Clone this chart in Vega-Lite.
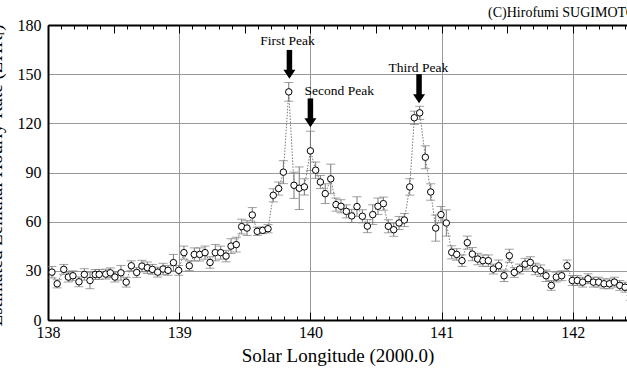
{
  "$schema": "https://vega.github.io/schema/vega-lite/v6.json",
  "autosize": {"type": "none"},
  "padding": {"left": 48, "top": 25, "right": 0, "bottom": 56},
  "width": 579,
  "height": 295,
  "background": "white",
  "config": {"font": "Liberation Serif", "view": {"stroke": null}, "axis": {"labelColor": "black", "titleColor": "black", "tickColor": "black"}},
  "datasets": {
    "obs": [
      {"lon": 138.03, "zhr": 29.2, "err": 3.5},
      {"lon": 138.07, "zhr": 22.1, "err": 2.5},
      {"lon": 138.12, "zhr": 30.9, "err": 3},
      {"lon": 138.155, "zhr": 26.2, "err": 3},
      {"lon": 138.19, "zhr": 27, "err": 3},
      {"lon": 138.236, "zhr": 23.3, "err": 3},
      {"lon": 138.277, "zhr": 27.8, "err": 3.5},
      {"lon": 138.32, "zhr": 24.1, "err": 5},
      {"lon": 138.36, "zhr": 27.8, "err": 3},
      {"lon": 138.39, "zhr": 27.8, "err": 3},
      {"lon": 138.44, "zhr": 28, "err": 3},
      {"lon": 138.475, "zhr": 28.8, "err": 3},
      {"lon": 138.51, "zhr": 26.2, "err": 3},
      {"lon": 138.556, "zhr": 28.8, "err": 4.5},
      {"lon": 138.596, "zhr": 23.1, "err": 3},
      {"lon": 138.635, "zhr": 33.1, "err": 3},
      {"lon": 138.676, "zhr": 29, "err": 3},
      {"lon": 138.716, "zhr": 32.9, "err": 3.5},
      {"lon": 138.757, "zhr": 31.9, "err": 3.5},
      {"lon": 138.795, "zhr": 30.9, "err": 3},
      {"lon": 138.836, "zhr": 29.2, "err": 3},
      {"lon": 138.877, "zhr": 31.1, "err": 3.5},
      {"lon": 138.915, "zhr": 30.3, "err": 3},
      {"lon": 138.956, "zhr": 35, "err": 5},
      {"lon": 138.996, "zhr": 30.3, "err": 3},
      {"lon": 139.036, "zhr": 41.1, "err": 4},
      {"lon": 139.077, "zhr": 33.1, "err": 3},
      {"lon": 139.115, "zhr": 40, "err": 4},
      {"lon": 139.156, "zhr": 40, "err": 4},
      {"lon": 139.197, "zhr": 41.1, "err": 4},
      {"lon": 139.235, "zhr": 35.1, "err": 3.5},
      {"lon": 139.275, "zhr": 41.1, "err": 5},
      {"lon": 139.316, "zhr": 41.1, "err": 4},
      {"lon": 139.357, "zhr": 39, "err": 3.5},
      {"lon": 139.395, "zhr": 45.1, "err": 4.5},
      {"lon": 139.435, "zhr": 46, "err": 4.5},
      {"lon": 139.476, "zhr": 57, "err": 4.5},
      {"lon": 139.517, "zhr": 56.1, "err": 4.5},
      {"lon": 139.557, "zhr": 64.1, "err": 4.5},
      {"lon": 139.595, "zhr": 54.1, "err": 2.5},
      {"lon": 139.636, "zhr": 54.7, "err": 2},
      {"lon": 139.677, "zhr": 55.7, "err": 2.5},
      {"lon": 139.717, "zhr": 76.1, "err": 4},
      {"lon": 139.758, "zhr": 80.2, "err": 4},
      {"lon": 139.794, "zhr": 90.2, "err": 7},
      {"lon": 139.835, "zhr": 139.2, "err": 5.7},
      {"lon": 139.875, "zhr": 82.2, "err": 8},
      {"lon": 139.915, "zhr": 80.4, "err": 13},
      {"lon": 139.954, "zhr": 81.2, "err": 5},
      {"lon": 140.0, "zhr": 103.2, "err": 12},
      {"lon": 140.04, "zhr": 91.4, "err": 5},
      {"lon": 140.076, "zhr": 84.2, "err": 4},
      {"lon": 140.113, "zhr": 77.1, "err": 6},
      {"lon": 140.155, "zhr": 86.1, "err": 9},
      {"lon": 140.195, "zhr": 70.4, "err": 4},
      {"lon": 140.233, "zhr": 69.4, "err": 4},
      {"lon": 140.274, "zhr": 66.3, "err": 4},
      {"lon": 140.315, "zhr": 63.5, "err": 4},
      {"lon": 140.355, "zhr": 69.2, "err": 6},
      {"lon": 140.396, "zhr": 63.3, "err": 4},
      {"lon": 140.434, "zhr": 57.3, "err": 4},
      {"lon": 140.475, "zhr": 64.3, "err": 6},
      {"lon": 140.515, "zhr": 69.4, "err": 5},
      {"lon": 140.556, "zhr": 71, "err": 4},
      {"lon": 140.594, "zhr": 57.2, "err": 4},
      {"lon": 140.635, "zhr": 55.1, "err": 4},
      {"lon": 140.676, "zhr": 59.2, "err": 4},
      {"lon": 140.716, "zhr": 61, "err": 4},
      {"lon": 140.757, "zhr": 81.2, "err": 5},
      {"lon": 140.792, "zhr": 123.4, "err": 4},
      {"lon": 140.833, "zhr": 126.4, "err": 4},
      {"lon": 140.876, "zhr": 99.3, "err": 7},
      {"lon": 140.917, "zhr": 78.1, "err": 5},
      {"lon": 140.955, "zhr": 56.1, "err": 8},
      {"lon": 140.995, "zhr": 64.3, "err": 5},
      {"lon": 141.036, "zhr": 59.2, "err": 8},
      {"lon": 141.077, "zhr": 41.3, "err": 4},
      {"lon": 141.115, "zhr": 40, "err": 3.5},
      {"lon": 141.155, "zhr": 36.2, "err": 3.5},
      {"lon": 141.196, "zhr": 47.2, "err": 4},
      {"lon": 141.234, "zhr": 40.2, "err": 4},
      {"lon": 141.275, "zhr": 37.2, "err": 3.5},
      {"lon": 141.315, "zhr": 36.2, "err": 3.5},
      {"lon": 141.356, "zhr": 36.2, "err": 3.5},
      {"lon": 141.394, "zhr": 31.1, "err": 3},
      {"lon": 141.435, "zhr": 33.1, "err": 3.5},
      {"lon": 141.476, "zhr": 27, "err": 3.5},
      {"lon": 141.516, "zhr": 39.2, "err": 4},
      {"lon": 141.554, "zhr": 29, "err": 3},
      {"lon": 141.595, "zhr": 31.1, "err": 3},
      {"lon": 141.636, "zhr": 34.1, "err": 3.5},
      {"lon": 141.676, "zhr": 35.1, "err": 3.5},
      {"lon": 141.714, "zhr": 31.1, "err": 3.5},
      {"lon": 141.755, "zhr": 30.1, "err": 3.5},
      {"lon": 141.796, "zhr": 27, "err": 3.5},
      {"lon": 141.836, "zhr": 21.1, "err": 3},
      {"lon": 141.874, "zhr": 26.2, "err": 3},
      {"lon": 141.915, "zhr": 27, "err": 3},
      {"lon": 141.956, "zhr": 33.1, "err": 3.5},
      {"lon": 141.996, "zhr": 24.1, "err": 3},
      {"lon": 142.034, "zhr": 24.1, "err": 3},
      {"lon": 142.075, "zhr": 23.1, "err": 3},
      {"lon": 142.116, "zhr": 25.2, "err": 3},
      {"lon": 142.157, "zhr": 23.1, "err": 3},
      {"lon": 142.197, "zhr": 23.1, "err": 3},
      {"lon": 142.238, "zhr": 22.1, "err": 3},
      {"lon": 142.279, "zhr": 22.1, "err": 3},
      {"lon": 142.317, "zhr": 23.1, "err": 3},
      {"lon": 142.358, "zhr": 21.1, "err": 3},
      {"lon": 142.398, "zhr": 20, "err": 3},
      {"lon": 142.44, "zhr": 15, "err": 3}
    ],
    "arrows": [
      {"lon": 139.84, "top": 164.8, "base": 151.5, "head": 149.9},
      {"lon": 140.0, "top": 135.2, "base": 122, "head": 120.4},
      {"lon": 140.828, "top": 150, "base": 136.5, "head": 135}
    ],
    "labels": [
      {"lon": 139.825, "y": 170.5, "text": "First Peak"},
      {"lon": 140.22, "y": 139.9, "text": "Second Peak"},
      {"lon": 140.823, "y": 153.9, "text": "Third Peak"}
    ],
    "credit": [
      {"lon": 141.354, "y": 187.3, "text": "(C)Hirofumi SUGIMOTO"}
    ]
  },
  "layer": [
    {
      "data": {"name": "obs"},
      "mark": {"type": "errorbar", "color": "#777777", "thickness": 1, "ticks": {"size": 9, "color": "#777777"}, "clip": true},
      "encoding": {
        "x": {"field": "lon", "type": "quantitative", "scale": {"domain": [138, 142.413], "nice": false, "zero": false}, "axis": null},
        "y": {"field": "zhr", "type": "quantitative", "scale": {"domain": [0, 180], "nice": false}, "axis": null},
        "yError": {"field": "err"}
      }
    },
    {
      "data": {"name": "obs"},
      "mark": {"type": "line", "color": "#777777", "strokeWidth": 1, "strokeDash": [1.5, 1.5], "clip": true},
      "encoding": {
        "x": {"field": "lon", "type": "quantitative", "axis": {"orient": "bottom", "values": [138, 138.5, 139, 139.5, 140, 140.5, 141, 141.5, 142], "grid": true, "gridColor": "#999999", "gridWidth": 1, "tickSize": -8, "tickWidth": 1, "format": "d", "labelExpr": "datum.value % 1 === 0 ? datum.label : ''", "labelFontSize": 16, "labelPadding": 12, "labelOverlap": false, "labelFlush": false, "title": "Solar Longitude (2000.0)", "titleFontSize": 19, "titleFontWeight": "normal", "titlePadding": 6, "domainColor": "black", "domainWidth": 2}},
        "y": {"field": "zhr", "type": "quantitative", "axis": {"orient": "left", "values": [0, 30, 60, 90, 120, 150, 180], "grid": true, "gridColor": "#999999", "gridWidth": 1, "ticks": false, "labelFontSize": 16, "labelPadding": 7, "labelFlush": false, "title": "Estimated Zenithal Hourly Rate (ZHRᵣ)", "titleFontSize": 19, "titleFontWeight": "normal", "titleX": -46.5, "titleY": 150, "titleAngle": 270, "titleBaseline": "alphabetic", "titleAlign": "center", "domainColor": "black", "domainWidth": 2}}
      }
    },
    {
      "data": {"name": "obs"},
      "mark": {"type": "point", "shape": "circle", "filled": false, "fill": "white", "fillOpacity": 1, "stroke": "black", "strokeWidth": 1, "size": 42, "opacity": 1, "clip": true},
      "encoding": {
        "x": {"field": "lon", "type": "quantitative", "axis": {"orient": "bottom", "values": [138, 138.1, 138.2, 138.3, 138.4, 138.5, 138.6, 138.7, 138.8, 138.9, 139, 139.1, 139.2, 139.3, 139.4, 139.5, 139.6, 139.7, 139.8, 139.9, 140, 140.1, 140.2, 140.3, 140.4, 140.5, 140.6, 140.7, 140.8, 140.9, 141, 141.1, 141.2, 141.3, 141.4, 141.5, 141.6, 141.7, 141.8, 141.9, 142, 142.1, 142.2, 142.3, 142.4], "grid": false, "tickSize": -4, "tickWidth": 1, "labels": false, "domain": false, "title": null}},
        "y": {"field": "zhr", "type": "quantitative", "axis": null}
      }
    },
    {
      "data": {"name": "arrows"},
      "mark": {"type": "rule", "color": "black", "strokeWidth": 5.5, "strokeCap": "butt"},
      "encoding": {
        "x": {"field": "lon", "type": "quantitative", "axis": {"orient": "top", "values": [138, 138.1, 138.2, 138.3, 138.4, 138.5, 138.6, 138.7, 138.8, 138.9, 139, 139.1, 139.2, 139.3, 139.4, 139.5, 139.6, 139.7, 139.8, 139.9, 140, 140.1, 140.2, 140.3, 140.4, 140.5, 140.6, 140.7, 140.8, 140.9, 141, 141.1, 141.2, 141.3, 141.4, 141.5, 141.6, 141.7, 141.8, 141.9, 142, 142.1, 142.2, 142.3, 142.4], "grid": false, "tickSize": -4, "tickWidth": 1, "labels": false, "domainColor": "black", "domainWidth": 2, "title": null}},
        "y": {"field": "top", "type": "quantitative", "axis": null},
        "y2": {"field": "base"}
      }
    },
    {
      "data": {"name": "arrows"},
      "mark": {"type": "point", "shape": "M-1,-0.75L1,-0.75L0,0.75Z", "filled": true, "color": "black", "size": 144, "opacity": 1, "strokeWidth": 0},
      "encoding": {
        "x": {"field": "lon", "type": "quantitative", "axis": {"orient": "top", "values": [138, 138.5, 139, 139.5, 140, 140.5, 141, 141.5, 142], "grid": false, "tickSize": -8, "tickWidth": 1, "labels": false, "domain": false, "title": null}},
        "y": {"field": "head", "type": "quantitative", "axis": null}
      }
    },
    {
      "data": {"name": "labels"},
      "mark": {"type": "text", "font": "Liberation Serif", "fontSize": 13.5, "color": "black", "align": "center", "baseline": "middle"},
      "encoding": {
        "x": {"field": "lon", "type": "quantitative", "axis": null},
        "y": {"field": "y", "type": "quantitative", "axis": null},
        "text": {"field": "text"}
      }
    },
    {
      "data": {"name": "credit"},
      "mark": {"type": "text", "font": "Liberation Serif", "fontSize": 14, "color": "black", "align": "left", "baseline": "middle", "clip": false},
      "encoding": {
        "x": {"field": "lon", "type": "quantitative", "axis": null},
        "y": {"field": "y", "type": "quantitative", "axis": null},
        "text": {"field": "text"}
      }
    }
  ],
  "resolve": {"axis": {"x": "independent", "y": "independent"}}
}
